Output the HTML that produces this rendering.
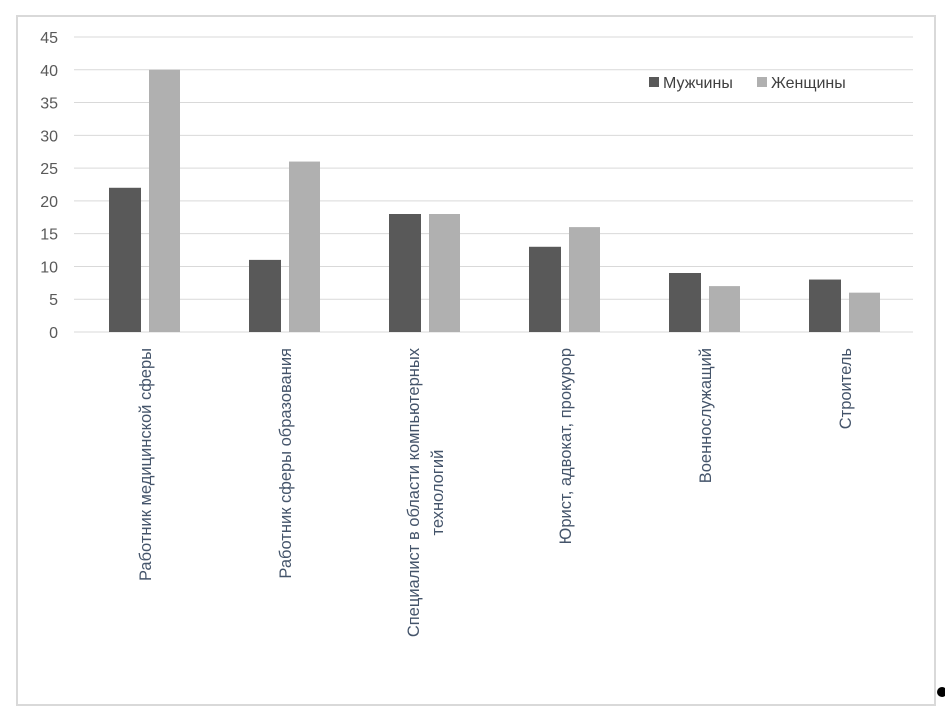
<!DOCTYPE html>
<html><head><meta charset="utf-8"><style>
body{margin:0;background:#fff;width:945px;height:711px;overflow:hidden;font-family:"Liberation Sans",sans-serif}
</style></head><body>
<svg width="945" height="711">
<rect x="17" y="16" width="918" height="689" fill="#fff" stroke="#d9d9d9" stroke-width="2"/>
<g id="grid"></g><g id="bars"></g><g id="labels"></g>
<g>
<rect x="649" y="77" width="10" height="10" fill="#595959"/>
<text x="663" y="88" font-size="16" fill="#404040">Мужчины</text>
<rect x="757" y="77" width="10" height="10" fill="#b0b0b0"/>
<text x="771" y="88" font-size="16" fill="#404040">Женщины</text>
</g>
<circle cx="942" cy="692" r="5" fill="#000"/>
</svg>
<script>
const categories=[["Работник медицинской сферы"],["Работник сферы образования"],["Специалист в области компьютерных","технологий"],["Юрист, адвокат, прокурор"],["Военнослужащий"],["Строитель"]];
const men=[22,11,18,13,9,8];
const women=[40,26,18,16,7,6];
const ticks=[0,5,10,15,20,25,30,35,40,45];
const NS="http://www.w3.org/2000/svg";
const y0=332,pxPer=(332-37)/45,x0=75,band=140;
const y=v=>y0-v*pxPer, xc=i=>x0+band*i+band/2;
function mk(t,a,p){const e=document.createElementNS(NS,t);for(const k in a)e.setAttribute(k,a[k]);p.appendChild(e);return e;}
const g=document.getElementById('grid');
ticks.forEach(t=>{
 const l=mk('line',{x1:74,x2:913,y1:y(t),y2:y(t),stroke:'#d9d9d9','stroke-width':1},g);
 
 
 const tx=mk('text',{x:58,y:y(t)+6,'font-size':16,fill:'#595959','text-anchor':'end'},g);
 tx.textContent=t;
 
 
});
const b=document.getElementById('bars'),lb=document.getElementById('labels');
categories.forEach((c,i)=>{
 const cx=xc(i);
 const r1=mk('rect',{x:cx-36,y:y(men[i]),width:32,height:y0-y(men[i]),fill:'#595959'},b);
 
 
 const r2=mk('rect',{x:cx+4,y:y(women[i]),width:31,height:y0-y(women[i]),fill:'#b0b0b0'},b);
 
 
 const n=c.length;
 const els=[];
 c.forEach((line,j)=>{
  const t=mk('text',{x:0,y:0,'font-size':16.5,fill:'#44546a','text-anchor':'middle'},lb);
  t.textContent=line;
  
  
  els.push(t);
 });
 let maxw=0;els.forEach(t=>{maxw=Math.max(maxw,t.getComputedTextLength());});
 const cy=348+maxw/2;
 els.forEach((t,j)=>{
  const lx=cx+6+(j-(n-1)/2)*24;
  t.setAttribute('transform',`translate(${lx},${cy}) rotate(-90)`);
 });
});
</script>
</body></html>
